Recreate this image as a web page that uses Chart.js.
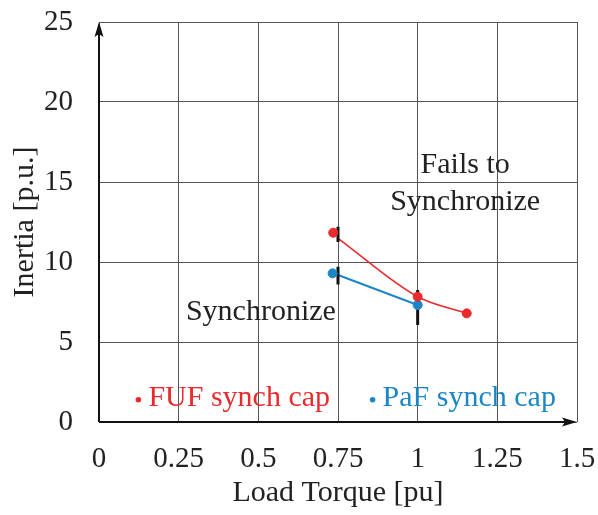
<!DOCTYPE html>
<html>
<head>
<meta charset="utf-8">
<script src="https://cdn.jsdelivr.net/npm/chart.js@4"></script>
<style>
  html, body { margin: 0; padding: 0; background: #fff; }
  #wrap { width: 598px; height: 515px; }
</style>
</head>
<body>
<div id="wrap"><canvas id="c" width="598" height="515"></canvas></div>
<script>
// Measured operating points
const fufTorque = [0.735, 1.0, 1.154];
const fufInertia = [11.83, 7.83, 6.79];
const pafTorque = [0.733, 1.0];
const pafInertia = [9.29, 7.31];

// Fitted boundary curves
const fufCurveTorque = [0.75, 1.0, 1.154];
const fufCurveInertia = [11.48, 7.83, 6.79];
const pafCurveTorque = [0.75, 1.0];
const pafCurveInertia = [9.19, 7.31];

// Spread bars (torque, low, high)
const barTorque = [0.75, 0.75, 1.0];
const barLow = [11.25, 8.6, 6.06];
const barHigh = [12.2, 9.7, 8.25];

const xTicks = ['0', '0.25', '0.5', '0.75', '1', '1.25', '1.5'];
const yTicks = ['0', '5', '10', '15', '20', '25'];

const RED = '#ea2a2e';
const BLUE = '#1a86c6';
const FONT = '"Liberation Serif", "Times New Roman", serif';

const pts = (xs, ys) => xs.map((x, i) => ({ x, y: ys[i] }));
const bars = [];
barTorque.forEach((x, i) => {
  bars.push({ x, y: barLow[i] }, { x, y: barHigh[i] }, { x, y: null });
});

// Region labels and series key, placed in data units
const notes = [
  { text: 'Fails to', x: 1.149, y: 16.05, color: '#222' },
  { text: 'Synchronize', x: 1.149, y: 13.75, color: '#222' },
  { text: 'Synchronize', x: 0.508, y: 6.88, color: '#222' }
];
const keys = [
  { text: 'FUF synch cap', x: 0.155, y: 1.52, color: RED },
  { text: 'PaF synch cap', x: 0.89, y: 1.52, color: BLUE }
];

const axesPlugin = {
  id: 'axesArrows',
  beforeDatasetsDraw(chart) {
    const { ctx, chartArea: a } = chart;
    ctx.save();
    ctx.strokeStyle = '#111';
    ctx.fillStyle = '#111';
    ctx.lineWidth = 2;
    ctx.beginPath();
    ctx.moveTo(a.left, a.bottom);
    ctx.lineTo(a.left, a.top + 10);
    ctx.moveTo(a.left, a.bottom);
    ctx.lineTo(a.right - 10, a.bottom);
    ctx.stroke();
    // arrowheads
    ctx.beginPath();
    ctx.moveTo(a.left, a.top);
    ctx.lineTo(a.left - 4.5, a.top + 15);
    ctx.lineTo(a.left, a.top + 12);
    ctx.lineTo(a.left + 4.5, a.top + 15);
    ctx.closePath();
    ctx.fill();
    ctx.beginPath();
    ctx.moveTo(a.right, a.bottom);
    ctx.lineTo(a.right - 15, a.bottom - 4.5);
    ctx.lineTo(a.right - 12, a.bottom);
    ctx.lineTo(a.right - 15, a.bottom + 4.5);
    ctx.closePath();
    ctx.fill();
    ctx.restore();
  },
  afterDatasetsDraw(chart) {
    const { ctx, scales: { x, y } } = chart;
    ctx.save();
    ctx.font = '30px ' + FONT;
    ctx.textBaseline = 'middle';
    ctx.textAlign = 'center';
    notes.forEach(n => {
      ctx.fillStyle = n.color;
      ctx.fillText(n.text, x.getPixelForValue(n.x), y.getPixelForValue(n.y));
    });
    ctx.textAlign = 'left';
    keys.forEach(k => {
      const px = x.getPixelForValue(k.x);
      const py = y.getPixelForValue(k.y);
      ctx.fillStyle = k.color;
      ctx.beginPath();
      ctx.arc(px - 10, py + 2, 2.8, 0, Math.PI * 2);
      ctx.fill();
      ctx.fillText(k.text, px, py);
    });
    ctx.restore();
  }
};

new Chart(document.getElementById('c'), {
  type: 'scatter',
  data: {
    datasets: [
      {
        label: 'FUF synch cap',
        data: pts(fufTorque, fufInertia),
        backgroundColor: RED, borderColor: RED,
        pointRadius: 4.5, pointHoverRadius: 4.5, order: 1
      },
      {
        label: 'PaF synch cap',
        data: pts(pafTorque, pafInertia),
        backgroundColor: BLUE, borderColor: BLUE,
        pointRadius: 4.5, pointHoverRadius: 4.5, order: 1
      },
      {
        label: 'FUF boundary',
        type: 'line',
        data: pts(fufCurveTorque, fufCurveInertia),
        borderColor: RED, borderWidth: 1.6, pointRadius: 0,
        cubicInterpolationMode: 'monotone', fill: false, order: 3
      },
      {
        label: 'PaF boundary',
        type: 'line',
        data: pts(pafCurveTorque, pafCurveInertia),
        borderColor: BLUE, borderWidth: 2, pointRadius: 0,
        fill: false, order: 3
      },
      {
        label: 'spread',
        type: 'line',
        data: bars,
        borderColor: '#111', borderWidth: 3, pointRadius: 0,
        spanGaps: false, fill: false, order: 2
      }
    ]
  },
  options: {
    responsive: false,
    animation: false,
    layout: { padding: { top: 22, right: 21, left: 0, bottom: 0 } },
    plugins: { legend: { display: false }, tooltip: { enabled: false } },
    scales: {
      x: {
        type: 'linear', min: 0, max: 1.5,
        afterFit(s) { s.height = 93; s.paddingLeft = 0; s.paddingRight = 0; },
        afterBuildTicks(s) { s.ticks = xTicks.map(t => ({ value: parseFloat(t) })); },
        ticks: {
          color: '#222', padding: 20,
          font: { family: FONT, size: 29 },
          maxRotation: 0,
          callback: (v) => xTicks.find(t => parseFloat(t) === v)
        },
        grid: { color: '#555', lineWidth: 1, drawTicks: false },
        border: { display: false },
        title: {
          display: true, text: 'Load Torque [pu]', color: '#222',
          font: { family: FONT, size: 30 }, padding: { top: 2 }
        }
      },
      y: {
        type: 'linear', min: 0, max: 25,
        afterFit(s) { s.width = 99; s.paddingTop = 0; s.paddingBottom = 0; },
        afterBuildTicks(s) { s.ticks = yTicks.map(t => ({ value: parseFloat(t) })); },
        ticks: {
          color: '#222', padding: 26,
          font: { family: FONT, size: 29 },
          callback: (v) => yTicks.find(t => parseFloat(t) === v)
        },
        grid: { color: '#555', lineWidth: 1, drawTicks: false },
        border: { display: false },
        title: {
          display: true, text: 'Inertia [p.u.]', color: '#222',
          font: { family: FONT, size: 30 }, padding: { top: 7, bottom: 0 }
        }
      }
    }
  },
  plugins: [axesPlugin]
});
</script>
</body>
</html>
